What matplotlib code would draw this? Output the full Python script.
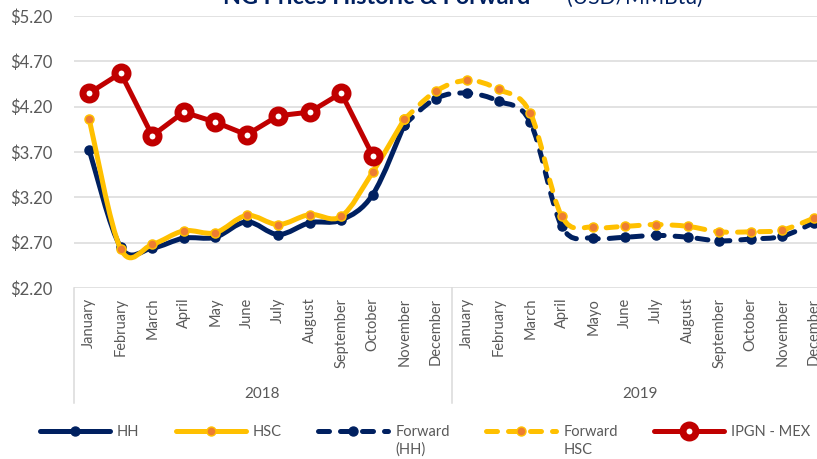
import numpy as np
import matplotlib
matplotlib.use('Agg')
import matplotlib.pyplot as plt
from matplotlib.path import Path
from matplotlib.patches import PathPatch
from matplotlib.lines import Line2D

plt.rcParams['font.family'] = ['Lato', 'DejaVu Sans']

# Datos
meses_2018 = ['January', 'February', 'March', 'April', 'May', 'June', 'July',
              'August', 'September', 'October', 'November', 'December']
meses_2019 = ['January', 'February', 'March', 'April', 'Mayo', 'June', 'July',
              'August', 'September', 'October', 'November', 'December']
anos = ['2018', '2019']

hh_hist = [3.72, 2.65, 2.64, 2.75, 2.76, 2.93, 2.79, 2.92, 2.95, 3.23, 4.00]
hsc_hist = [4.06, 2.63, 2.68, 2.83, 2.81, 3.00, 2.90, 3.01, 2.99, 3.48, 4.06]
hh_fwd = [4.00, 4.29, 4.35, 4.26, 4.03, 2.88, 2.75, 2.76, 2.78, 2.76, 2.72, 2.74, 2.77, 2.92]
hsc_fwd = [4.06, 4.37, 4.49, 4.39, 4.13, 2.99, 2.87, 2.88, 2.90, 2.88, 2.82, 2.82, 2.84, 2.97]
ipgn = [4.35, 4.57, 3.88, 4.14, 4.03, 3.89, 4.10, 4.14, 4.35, 3.66]

y_ticks = [2.20, 2.70, 3.20, 3.70, 4.20, 4.70, 5.20]

nombres = ['HH', 'HSC', 'Forward', 'Forward', 'IPGN - MEX']
segunda_linea = ['', '', '(HH)', 'HSC', '']

AZUL = '#002060'
AMARILLO = '#FFC000'
NARANJA = '#ED7D31'
ROJO = '#C00000'
GRIS = '#595959'
GRID = '#D9D9D9'


def suave(x, y):
    # curva suavizada tipo Excel (Bezier por Catmull-Rom)
    pts = np.column_stack([x, y]).astype(float)
    n = len(pts)
    verts = [pts[0]]
    codes = [Path.MOVETO]
    for i in range(n - 1):
        p0 = pts[i - 1] if i > 0 else pts[i]
        p3 = pts[i + 2] if i + 2 < n else pts[i + 1]
        verts += [pts[i] + (pts[i + 1] - p0) / 6,
                  pts[i + 1] - (p3 - pts[i]) / 6,
                  pts[i + 1]]
        codes += [Path.CURVE4] * 3
    return Path(verts, codes)


px = 72 / 100  # puntos por pixel
lw = 5 * px
dash = (2.2, 2.2)
ms = 9 * px

fig = plt.figure(figsize=(8.17, 4.59), dpi=100)
ax = fig.add_axes([73.5 / 817, 1 - 288 / 459, 756 / 817, 272 / 459])

x_hist = np.arange(len(hh_hist))
x_fwd = np.arange(len(hh_hist) - 1, len(hh_hist) - 1 + len(hh_fwd))
x_ipgn = np.arange(len(ipgn))

series = [
    (x_hist, hh_hist, AZUL, AZUL, AZUL, '-', 2),
    (x_hist, hsc_hist, AMARILLO, NARANJA, AMARILLO, '-', 3),
    (x_fwd, hh_fwd, AZUL, AZUL, AZUL, (0, dash), 2),
    (x_fwd, hsc_fwd, AMARILLO, NARANJA, AMARILLO, (0, dash), 3),
]
for xs, ys, col, mfc, mec, ls, z in series:
    ax.add_patch(PathPatch(suave(xs, ys), fill=False, edgecolor=col, lw=lw,
                           linestyle=ls, capstyle='round', joinstyle='round',
                           zorder=z))
    ax.plot(xs, ys, ls='none', marker='o', ms=ms,
            mfc=mfc, mec=mec, mew=1.5 * px, zorder=z + 0.1)

ax.plot(x_ipgn, ipgn, color=ROJO, lw=lw, solid_capstyle='round', zorder=5)
ax.plot(x_ipgn, ipgn, ls='none', marker='o', ms=13 * px, mfc='white',
        mec=ROJO, mew=7 * px, zorder=5.1)

ax.set_xlim(-0.5, 23.5)
ax.set_ylim(2.2, 5.2)
ax.set_yticks(y_ticks)
ax.set_yticklabels(['${:.2f}'.format(v) for v in y_ticks])
ax.set_xticks(np.arange(24))
ax.set_xticklabels(meses_2018 + meses_2019, rotation=90, va='top', ha='center')
ax.tick_params(axis='x', length=0, pad=7, labelsize=10.5, colors=GRIS)
ax.tick_params(axis='y', length=0, pad=63.5 * px, labelsize=12, colors=GRIS)
for lab in ax.get_yticklabels():
    lab.set_horizontalalignment('left')
ax.grid(axis='y', color=GRID, lw=1.5 * px)
ax.set_axisbelow(True)
for s in ax.spines.values():
    s.set_visible(False)

# eje de categorías de dos niveles
for xv in [-0.5, 11.5, 23.5]:
    ax.plot([xv, xv], [0, -0.423], color=GRID, lw=1.5 * px,
            transform=ax.get_xaxis_transform(), clip_on=False)
for i, a in enumerate(anos):
    ax.text(5.5 + 12 * i, -0.389, a, transform=ax.get_xaxis_transform(),
            ha='center', va='center', fontsize=11, color=GRIS)

# título (cortado arriba)
fig.text(223 / 817, 1 - 4 / 459, 'NG Prices Historic & Forward', fontsize=16.8,
         fontweight='bold', color=AZUL, ha='left', va='baseline')
fig.text(567 / 817, 1 - 4 / 459, '(USD/MMBtu)', fontsize=15.2,
         color=AZUL, ha='left', va='baseline')

handles = [
    Line2D([], [], color=AZUL, lw=lw, marker='o', ms=ms, mfc=AZUL, mec=AZUL,
           solid_capstyle='round'),
    Line2D([], [], color=AMARILLO, lw=lw, marker='o', ms=ms, mfc=NARANJA,
           mec=AMARILLO, solid_capstyle='round'),
    Line2D([], [], color=AZUL, lw=lw, marker='o', ms=ms, mfc=AZUL, mec=AZUL,
           dashes=dash, dash_capstyle='round'),
    Line2D([], [], color=AMARILLO, lw=lw, marker='o', ms=ms, mfc=NARANJA,
           mec=AMARILLO, dashes=dash, dash_capstyle='round'),
    Line2D([], [], color=ROJO, lw=lw, marker='o', ms=13 * px, mfc='white',
           mec=ROJO, mew=7 * px, solid_capstyle='round'),
]
leg = fig.legend(handles, nombres, loc='center left', ncol=5,
                 bbox_to_anchor=(40 / 817, 1 - 432 / 459), frameon=False,
                 fontsize=10.5, handlelength=4.8, handletextpad=0.48,
                 columnspacing=2.5, labelcolor=GRIS, borderpad=0,
                 borderaxespad=0)

# segunda línea de las etiquetas de Forward
fig.canvas.draw()
inv = fig.transFigure.inverted()
for t, extra in zip(leg.get_texts(), segunda_linea):
    if extra:
        x0, yb = t.get_transform().transform(t.get_position())
        xf, yf = inv.transform((x0, yb - 18))
        fig.text(xf, yf, extra, fontsize=10.5, color=GRIS,
                 ha='left', va='baseline')

fig.savefig('out.png', dpi=100)
